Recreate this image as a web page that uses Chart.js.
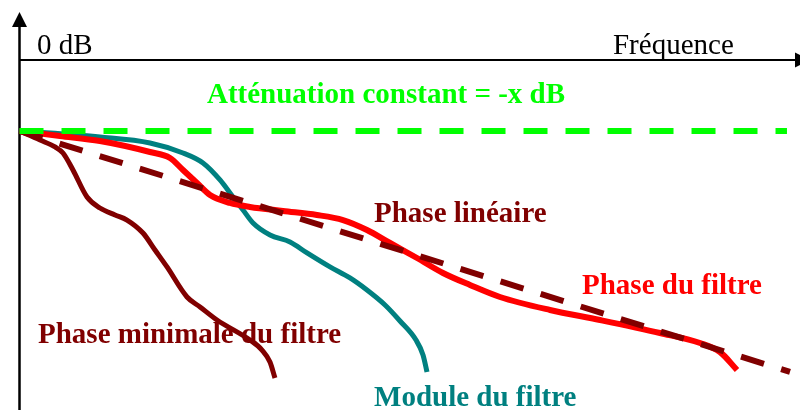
<!DOCTYPE html>
<html>
<head>
<meta charset="utf-8">
<script src="https://cdn.jsdelivr.net/npm/chart.js@4"></script>
<style>
  html, body { margin: 0; padding: 0; background: #fff; }
  canvas { display: block; }
</style>
</head>
<body>
<canvas id="chart" width="800" height="410"></canvas>
<script>
// frequency (arbitrary units 0..100) and attenuation (dB)
const freqPhaseFiltre = [0, 5.19, 10.31, 16.72, 19.28, 20.95, 22.74, 24.41, 26.97, 29.53, 33.76, 38.11, 41.45, 44.52, 47.47, 50.93, 54.26, 57.72, 61.56, 67.97, 74.37, 82.06, 87.19, 89.75, 91.93];
const dbPhaseFiltre   = [-10, -10.7, -11.41, -12.96, -13.8, -15.49, -17.32, -19.01, -20.14, -20.7, -21.27, -21.83, -22.54, -23.94, -25.77, -27.89, -30.0, -31.69, -33.38, -35.21, -36.62, -38.45, -39.86, -41.13, -43.66];

const freqModule = [0, 10.31, 16.72, 20.95, 23.51, 25.69, 27.35, 28.64, 29.92, 32.1, 34.66, 36.84, 39.78, 42.34, 44.52, 46.83, 48.75, 50.8, 51.7, 52.21];
const dbModule   = [-10, -10.85, -11.69, -13.1, -14.51, -16.9, -19.3, -21.13, -22.96, -24.65, -25.63, -27.18, -29.15, -30.7, -32.4, -34.51, -36.76, -39.44, -41.55, -43.95];

const freqPhaseMin = [0, 2.63, 4.55, 5.57, 6.85, 8.65, 10.31, 12.24, 13.77, 15.82, 17.36, 18.9, 21.46, 23.13, 25.3, 29.53, 31.07, 32.09, 32.73];
const dbPhaseMin   = [-10, -11.27, -12.25, -13.1, -15.49, -19.3, -20.85, -21.83, -22.54, -24.37, -26.76, -29.15, -33.38, -34.79, -36.62, -39.44, -40.85, -42.54, -44.79];

const freqLineaire = [0, 98.72];
const dbLineaire   = [-10, -43.94];

const freqConstant = [0, 98.33];
const dbConstant   = [-10, -10];

const labelZero = '0 dB';
const labelFreq = 'Fréquence';

function pts(xs, ys) {
  return xs.map((x, i) => ({ x: x, y: ys[i] }));
}

const serif = '"Liberation Serif", "Times New Roman", serif';

// text notes placed in data units (left edge, baseline)
const notes = [
  { text: labelZero, x: 2.24, y: 0.85, color: '#000', bold: false },
  { text: labelFreq, x: 76.04, y: 0.85, color: '#000', bold: false },
  { text: 'Atténuation constant = -x dB', x: 24.02, y: -6.06, color: '#00ff00', bold: true },
  { text: 'Phase linéaire', x: 45.42, y: -22.82, color: '#800000', bold: true },
  { text: 'Phase du filtre', x: 72.07, y: -32.96, color: '#ff0000', bold: true },
  { text: 'Phase minimale du filtre', x: 2.37, y: -39.86, color: '#800000', bold: true },
  { text: 'Module du filtre', x: 45.42, y: -48.73, color: '#008080', bold: true }
];

const sketchAxes = {
  id: 'sketchAxes',
  beforeDatasetsDraw(chart) {
    const ctx = chart.ctx;
    const xs = chart.scales.x, ys = chart.scales.y;
    const x0 = Math.round(xs.getPixelForValue(0)) - 0.5;
    const y0 = Math.round(ys.getPixelForValue(0));
    ctx.save();
    ctx.strokeStyle = '#000';
    ctx.fillStyle = '#000';
    // vertical axis
    ctx.lineWidth = 2.5;
    ctx.beginPath();
    ctx.moveTo(x0, 22);
    ctx.lineTo(x0, chart.height);
    ctx.stroke();
    ctx.beginPath();
    ctx.moveTo(x0, 12);
    ctx.lineTo(x0 - 7.5, 27);
    ctx.lineTo(x0 + 7.5, 27);
    ctx.closePath();
    ctx.fill();
    // 0 dB / frequency axis
    ctx.lineWidth = 2;
    ctx.beginPath();
    ctx.moveTo(x0, y0);
    ctx.lineTo(chart.width - 4, y0);
    ctx.stroke();
    ctx.beginPath();
    ctx.moveTo(810, y0);
    ctx.lineTo(795, y0 - 7.5);
    ctx.lineTo(795, y0 + 7.5);
    ctx.closePath();
    ctx.fill();
    // notes
    ctx.textBaseline = 'alphabetic';
    ctx.textAlign = 'left';
    notes.forEach(n => {
      ctx.font = (n.bold ? 'bold ' : '') + '29px ' + serif;
      ctx.fillStyle = n.color;
      ctx.fillText(n.text, xs.getPixelForValue(n.x), ys.getPixelForValue(n.y));
    });
    ctx.restore();
  }
};

new Chart(document.getElementById('chart'), {
  type: 'line',
  data: {
    datasets: [
      {
        label: 'Atténuation constant',
        data: pts(freqConstant, dbConstant),
        borderColor: '#00ff00',
        borderWidth: 6,
        borderDash: [24, 18],
        order: 1
      },
      {
        label: 'Phase linéaire',
        data: pts(freqLineaire, dbLineaire),
        borderColor: '#800000',
        borderWidth: 6,
        borderDash: [24, 18],
        order: 2
      },
      {
        label: 'Phase minimale du filtre',
        data: pts(freqPhaseMin, dbPhaseMin),
        borderColor: '#800000',
        borderWidth: 5,
        cubicInterpolationMode: 'monotone',
        order: 3
      },
      {
        label: 'Phase du filtre',
        data: pts(freqPhaseFiltre, dbPhaseFiltre),
        borderColor: '#ff0000',
        borderWidth: 6,
        cubicInterpolationMode: 'monotone',
        order: 4
      },
      {
        label: 'Module du filtre',
        data: pts(freqModule, dbModule),
        borderColor: '#008080',
        borderWidth: 5,
        cubicInterpolationMode: 'monotone',
        order: 5
      }
    ]
  },
  options: {
    responsive: false,
    animation: false,
    devicePixelRatio: 1,
    layout: { padding: 0 },
    elements: { point: { radius: 0 }, line: { borderCapStyle: 'butt', fill: false } },
    scales: {
      x: { type: 'linear', min: -2.5, max: 100, display: false },
      y: { type: 'linear', min: -49.3, max: 8.45, display: false }
    },
    plugins: {
      legend: { display: false },
      tooltip: { enabled: false }
    }
  },
  plugins: [sketchAxes]
});
</script>
</body>
</html>
